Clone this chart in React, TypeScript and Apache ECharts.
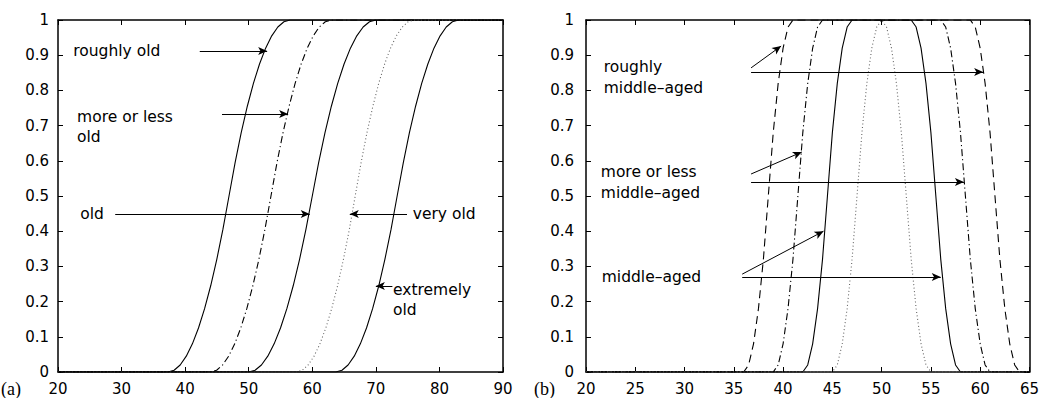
import React, { useEffect, useRef } from "react";
import * as echarts from "echarts";

// membership levels at which curve points were read
const LEVELS_FINE = [
  0, 0.005, 0.02, 0.045, 0.08, 0.125, 0.18, 0.245, 0.32, 0.405, 0.5,
  0.595, 0.68, 0.755, 0.82, 0.875, 0.92, 0.955, 0.98, 0.995, 1,
];
const LEVELS_UP = [0, 0.02, 0.08, 0.18, 0.32, 0.5, 0.68, 0.82, 0.92, 0.98, 1];
const LEVELS_DOWN = [1, 0.98, 0.92, 0.82, 0.68, 0.5, 0.32, 0.18, 0.08, 0.02, 0];

// panel (a): ages at which each curve reaches LEVELS_FINE
const roughlyOld = [
  37.3, 38.26, 39.22, 40.18, 41.14, 42.1, 43.06, 44.02, 44.98, 45.94, 46.9,
  47.86, 48.82, 49.78, 50.74, 51.7, 52.66, 53.62, 54.58, 55.54, 56.5,
];
const moreOrLessOld = [
  44.0, 44.95, 45.9, 46.85, 47.8, 48.75, 49.7, 50.65, 51.6, 52.55, 53.5,
  54.45, 55.4, 56.35, 57.3, 58.25, 59.2, 60.15, 61.1, 62.05, 63.0,
];
const oldAge = [
  50, 51, 52, 53, 54, 55, 56, 57, 58, 59, 60,
  61, 62, 63, 64, 65, 66, 67, 68, 69, 70,
];
const veryOld = [
  57.5, 58.43, 59.35, 60.28, 61.2, 62.13, 63.05, 63.98, 64.9, 65.83, 66.75,
  67.68, 68.6, 69.53, 70.45, 71.38, 72.3, 73.23, 74.15, 75.08, 76.0,
];
const extremelyOld = [
  63.7, 64.67, 65.63, 66.6, 67.56, 68.53, 69.49, 70.46, 71.42, 72.39, 73.35,
  74.32, 75.28, 76.25, 77.21, 78.18, 79.14, 80.11, 81.07, 82.04, 83.0,
];

// panel (b): rising ages (LEVELS_UP) and falling ages (LEVELS_DOWN)
const roughlyMidUp = [36, 36.5, 37, 37.5, 38, 38.5, 39, 39.5, 40, 40.5, 41];
const roughlyMidDown = [59, 59.5, 60, 60.5, 61, 61.5, 62, 62.5, 63, 63.5, 64];
const moreOrLessMidUp = [39, 39.5, 40, 40.5, 41, 41.5, 42, 42.5, 43, 43.5, 44];
const moreOrLessMidDown = [56, 56.5, 57, 57.5, 58, 58.5, 59, 59.5, 60, 60.5, 61];
const middleAgedUp = [42, 42.5, 43, 43.5, 44, 44.5, 45, 45.5, 46, 46.5, 47];
const middleAgedDown = [53, 53.5, 54, 54.5, 55, 55.5, 56, 56.5, 57, 57.5, 58];
const veryMidUp = [45, 45.5, 46, 46.5, 47, 47.5, 48, 48.5, 49, 49.5, 50];
const veryMidDown = [50, 50.5, 51, 51.5, 52, 52.5, 53, 53.5, 54, 54.5, 55];

// tick settings
const AX_A = { min: 20, max: 90, interval: 10 };
const AX_B = { min: 20, max: 65, interval: 5 };
const AX_Y = { min: 0, max: 1, interval: 0.1 };

// annotations (data coordinates)
const notesA = [
  { text: "roughly old", x: 22.4, y: 0.912 },
  { text: "more or less\nold", x: 23.0, y: 0.696 },
  { text: "old", x: 23.5, y: 0.449 },
  { text: "very old", x: 75.8, y: 0.449 },
  { text: "extremely\nold", x: 72.7, y: 0.2045 },
];
const notesB = [
  { text: "roughly\nmiddle–aged", x: 21.8, y: 0.837 },
  { text: "more or less\nmiddle–aged", x: 21.5, y: 0.538 },
  { text: "middle–aged", x: 21.6, y: 0.27 },
];
const arrowsA = [
  [[42.3, 0.912], [52.9, 0.912]],
  [[45.8, 0.733], [56.2, 0.733]],
  [[29.0, 0.449], [59.6, 0.449]],
  [[74.9, 0.449], [65.9, 0.449]],
  [[72.6, 0.244], [70.0, 0.244]],
];
const arrowsB = [
  [[36.75, 0.864], [39.8, 0.926]],
  [[36.75, 0.852], [60.3, 0.852]],
  [[36.75, 0.5625], [41.9, 0.625]],
  [[36.75, 0.54], [58.35, 0.54]],
  [[35.85, 0.278], [44.1, 0.4]],
  [[35.85, 0.27], [56.0, 0.27]],
];

const FONT = '"DejaVu Sans", "Liberation Sans", sans-serif';
const SERIF = '"Liberation Serif", "DejaVu Serif", serif';

const SOLID = "solid";
const DASHED = [8, 5];
const DASHDOT = [7, 3, 1.2, 3];
const DOTTED = [1, 2.5];

function sCurve(xs: number[], lo: number, hi: number) {
  return [[lo, 0], ...xs.map((x, i) => [x, LEVELS_FINE[i]]), [hi, 1]];
}
function piCurve(up: number[], down: number[], lo: number, hi: number) {
  return [
    [lo, 0],
    ...up.map((x, i) => [x, LEVELS_UP[i]]),
    ...down.map((x, i) => [x, LEVELS_DOWN[i]]),
    [hi, 0],
  ];
}

function axisPair(kind: "x" | "y", grid: number, range: any, labelMargin: number) {
  const line = { show: true, onZero: false, lineStyle: { color: "#000", width: 1.5 } };
  const tick = { show: true, inside: true, length: 5, lineStyle: { color: "#000", width: 1 } };
  const main = {
    type: "value",
    gridIndex: grid,
    ...range,
    position: kind === "x" ? "bottom" : "left",
    axisLine: line,
    axisTick: tick,
    splitLine: { show: false },
    axisLabel: { color: "#000", fontSize: 15, fontFamily: FONT, margin: labelMargin },
  };
  const mirror = {
    type: "value",
    gridIndex: grid,
    ...range,
    position: kind === "x" ? "top" : "right",
    axisLine: line,
    axisTick: tick,
    splitLine: { show: false },
    axisLabel: { show: false },
  };
  return [main, mirror];
}

function curve(data: any, xi: number, yi: number, type: any, color = "#000") {
  return {
    type: "line",
    xAxisIndex: xi,
    yAxisIndex: yi,
    data,
    symbol: "none",
    showSymbol: false,
    smooth: false,
    silent: true,
    lineStyle: { color, width: 1.1, type },
  };
}

function arrowMark(list: number[][][]) {
  return {
    silent: true,
    symbol: ["none", "arrow"],
    symbolSize: [6, 9],
    label: { show: false },
    emphasis: { disabled: true },
    lineStyle: { color: "#000", width: 1, type: "solid" },
    data: list.map(([a, b]) => [{ coord: a }, { coord: b }]),
  };
}

export default function App() {
  const ref = useRef<HTMLDivElement>(null);
  useEffect(() => {
    if (!ref.current) return;
    const chart = echarts.init(ref.current, undefined, { renderer: "svg" });
    const seriesA = [
      curve(sCurve(roughlyOld, 20, 90), 0, 0, SOLID),
      curve(sCurve(moreOrLessOld, 20, 90), 0, 0, DASHDOT),
      curve(sCurve(oldAge, 20, 90), 0, 0, SOLID),
      curve(sCurve(veryOld, 20, 90), 0, 0, DOTTED, "#666"),
      curve(sCurve(extremelyOld, 20, 90), 0, 0, SOLID),
    ];
    (seriesA[0] as any).markLine = arrowMark(arrowsA);
    const seriesB = [
      curve(piCurve(roughlyMidUp, roughlyMidDown, 20, 65), 2, 2, DASHED),
      curve(piCurve(moreOrLessMidUp, moreOrLessMidDown, 20, 65), 2, 2, DASHDOT),
      curve(piCurve(middleAgedUp, middleAgedDown, 20, 65), 2, 2, SOLID),
      curve(piCurve(veryMidUp, veryMidDown, 20, 65), 2, 2, DOTTED, "#666"),
    ];
    (seriesB[2] as any).markLine = arrowMark(arrowsB);

    chart.setOption({
      animation: false,
      backgroundColor: "#fff",
      grid: [
        { left: 58, top: 20, width: 445, height: 352, containLabel: false },
        { left: 586, top: 20, width: 446, height: 352, containLabel: false },
      ],
      xAxis: [...axisPair("x", 0, AX_A, 9), ...axisPair("x", 1, AX_B, 9)],
      yAxis: [...axisPair("y", 0, AX_Y, 9), ...axisPair("y", 1, AX_Y, 12)],
      series: [...seriesA, ...seriesB],
    });

    const mk = (grid: number, lh: number) => (n: { text: string; x: number; y: number }) => {
      const p = chart.convertToPixel({ gridIndex: grid }, [n.x, n.y]) as number[];
      return {
        type: "text",
        x: p[0],
        y: p[1],
        silent: true,
        style: {
          text: n.text,
          fill: "#000",
          font: `15.5px ${FONT}`,
          lineHeight: lh,
          align: "left",
          verticalAlign: "middle",
        },
      };
    };
    const gA = chart.convertToPixel({ gridIndex: 0 }, [20, 0]) as number[];
    const gB = chart.convertToPixel({ gridIndex: 1 }, [20, 0]) as number[];
    chart.setOption({
      graphic: [
        ...notesA.map(mk(0, 20)),
        ...notesB.map(mk(1, 21.5)),
        {
          type: "text",
          x: gA[0] - 57,
          y: gA[1] + 17,
          silent: true,
          style: { text: "(a)", fill: "#000", font: `18px ${SERIF}`, verticalAlign: "middle", align: "left" },
        },
        {
          type: "text",
          x: gB[0] - 52,
          y: gB[1] + 17,
          silent: true,
          style: { text: "(b)", fill: "#000", font: `18px ${SERIF}`, verticalAlign: "middle", align: "left" },
        },
      ],
    });
    return () => chart.dispose();
  }, []);
  return (
    <div
      ref={ref}
      style={{ position: "absolute", left: 0, top: 0, width: 1042, height: 398, background: "#fff" }}
    />
  );
}
